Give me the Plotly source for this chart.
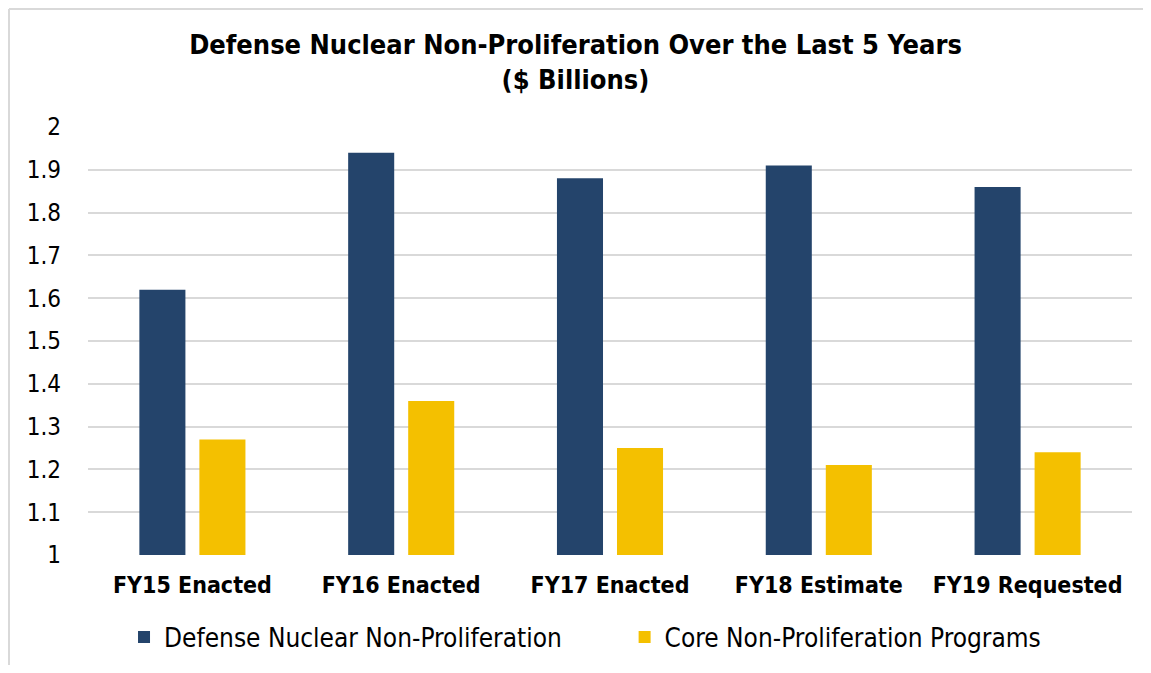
import plotly.graph_objects as go

categories = ["FY15 Enacted", "FY16 Enacted", "FY17 Enacted", "FY18 Estimate", "FY19 Requested"]
defense_nuclear = [1.62, 1.94, 1.88, 1.91, 1.86]
core_programs = [1.27, 1.36, 1.25, 1.21, 1.24]
y_ticks = [1, 1.1, 1.2, 1.3, 1.4, 1.5, 1.6, 1.7, 1.8, 1.9, 2]
y_tick_labels = ["1", "1.1", "1.2", "1.3", "1.4", "1.5", "1.6", "1.7", "1.8", "1.9", "2"]

FONT = "DejaVu Sans Condensed, DejaVu Sans"
W, H = 1135, 657
L, R, T, B = 80, 11, 119, 110
PW, PH = W - L - R, H - T - B

fig = go.Figure()
fig.add_trace(go.Bar(x=categories, y=defense_nuclear, name="Defense Nuclear Non-Proliferation",
                     marker=dict(color="#24446B", line=dict(width=0)), legend="legend"))
fig.add_trace(go.Bar(x=categories, y=core_programs, name="Core Non-Proliferation Programs",
                     marker=dict(color="#F4C000", line=dict(width=0)), legend="legend2"))

border = dict(color="#D9D9D9", width=2)
leg_common = dict(orientation="h", xanchor="left", xref="container", yref="container",
                  y=28 / H, yanchor="middle",
                  font=dict(size=26, family=FONT), bgcolor="rgba(0,0,0,0)")
fig.update_layout(
    width=W, height=H,
    paper_bgcolor="white", plot_bgcolor="white",
    margin=dict(l=L, r=R, t=T, b=B),
    barmode="group", bargap=0.425, bargroupgap=0.233,
    font=dict(family=FONT, color="#000000"),
    title=dict(text="<b>Defense Nuclear Non-Proliferation Over the Last 5 Years<br>($ Billions)</b>",
               x=0.5, xanchor="center", y=1 - 46 / H, yanchor="middle",
               font=dict(size=27, family=FONT, color="#000000")),
    showlegend=True,
    legend=dict(x=(L + 0.0345 * PW) / W, **leg_common),
    legend2=dict(x=(L + 0.514 * PW) / W, **leg_common),
    xaxis=dict(tickfont=dict(size=23, family=FONT), showline=False, showgrid=False,
               ticks="", ticklabelstandoff=14),
    yaxis=dict(range=[1, 2], tickvals=y_ticks, ticktext=y_tick_labels,
               tickfont=dict(size=24, family=FONT), showgrid=True, gridcolor="#D9D9D9",
               gridwidth=2, zeroline=False, showline=False, ticks="", ticklabelstandoff=26),
    shapes=[
        dict(type="line", xref="paper", yref="paper",
             x0=(1 - L) / PW, x1=(1 - L) / PW, y0=-(B + 20) / PH, y1=1 + (T - 1) / PH,
             line=border, layer="below"),
        dict(type="line", xref="paper", yref="paper",
             x0=(1 - L) / PW, x1=1 + (R + 30) / PW, y0=1 + (T - 1) / PH, y1=1 + (T - 1) / PH,
             line=border, layer="below"),
    ],
)
fig.for_each_trace(lambda t: t.update(hovertemplate="%{x}: %{y}<extra></extra>"))
fig.update_xaxes(tickprefix="<b>", ticksuffix="</b>")

fig.write_html("out.html")
